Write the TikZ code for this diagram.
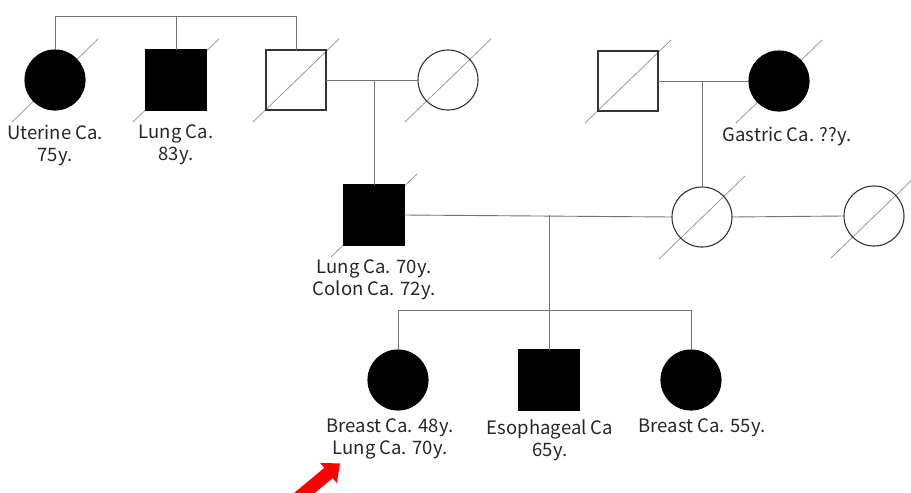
\documentclass[tikz,border=0pt]{standalone}
\usepackage{fontspec}
\setmainfont{Noto Sans CJK JP}
\usetikzlibrary{calc,backgrounds}
\begin{document}
\begin{tikzpicture}[x=1pt,y=-1pt,
  person/.style={draw=black!80,line width=1.1pt,minimum size=60pt,inner sep=0pt,outer sep=0pt},
  male/.style={person,rectangle},
  female/.style={person,circle},
  aff/.style={fill=black,draw=black},
  conn/.style={draw=black!55,line width=0.9pt},
  diag/.style={draw=black!40,line width=0.8pt},
  lbl/.style={align=center,font=\fontsize{18.5}{22}\selectfont,text=black!85,inner sep=0pt}]
\useasboundingbox (0,0) rectangle (911,493);
% generation I
\node[female,aff] (ut) at (55,80) {};
\node[male,aff] (lu) at (176,80) {};
\node[male] (gf) at (296,80) {};
\node[female] (gmo) at (448,80) {};
\node[male] (mgf) at (628,81) {};
\node[female,aff] (mgm) at (779,81) {};
% generation II
\node[male,aff] (fa) at (374,215) {};
\node[female] (mo) at (702,217) {};
\node[female] (mo2) at (874,216) {};
% generation III
\node[female,aff] (c1) at (398,380) {};
\node[male,aff] (c2) at (549,380) {};
\node[female,aff] (c3) at (691,380) {};
% deceased diagonals
\begin{pgfonlayer}{background}
\foreach \n in {ut,lu,gf,gmo,mgf,mgm,fa,mo,mo2}
  \draw[diag] ($(\n)+(-43,42)$) -- ($(\n)+(43,-41)$);
\end{pgfonlayer}
% labels
\node[lbl] (tut) at (55,145) {Uterine Ca.\\75y.};
\node[lbl] (tlu) at (176,145) {Lung Ca.\\83y.};
\node[lbl] (tmgm) at (787,136) {Gastric Ca. ??y.};
\node[lbl] (tfa) at (374,280) {Lung Ca. 70y.\\Colon Ca. 72y.};
\node[lbl] (tc1) at (390,439) {Breast Ca. 48y.\\Lung Ca. 70y.};
\node[lbl] (tc2) at (550,440) {Esophageal Ca\\65y.};
\node[lbl] (tc3) at (702,428) {Breast Ca. 55y.};
% sibship of generation I
\coordinate (top) at (0,16);
\draw[conn] (ut.north) -- (ut.north |- top) -- (gf.north |- top) -- (gf.north);
\draw[conn] (lu.north) -- (lu.north |- top);
% couples
\draw[conn] (gf.east) -- (gmo.west);
\draw[conn] (fa.north) -- (fa.north |- gf.east);
\draw[conn] (mgf.east) -- (mgm.west);
\draw[conn] (mo.north) -- (mo.north |- mgf.east);
\draw[conn] (fa.east) -- (mo.west);
\draw[conn] (mo.east) -- (mo2.west);
% descent to generation III
\coordinate (sib) at (0,310);
\draw[conn] (c2.north |- fa.east) -- (c2.north);
\draw[conn] (c1.north) -- (c1.north |- sib) -- (c3.north |- sib) -- (c3.north);
% proband arrow
\fill[red] (340.0,463.4) -- (336.8,483.0) -- (332.7,478.1) -- (294.2,510.1) -- (285.8,499.9) -- (324.3,467.9) -- (320.2,463.0) -- cycle;
\end{tikzpicture}
\end{document}
